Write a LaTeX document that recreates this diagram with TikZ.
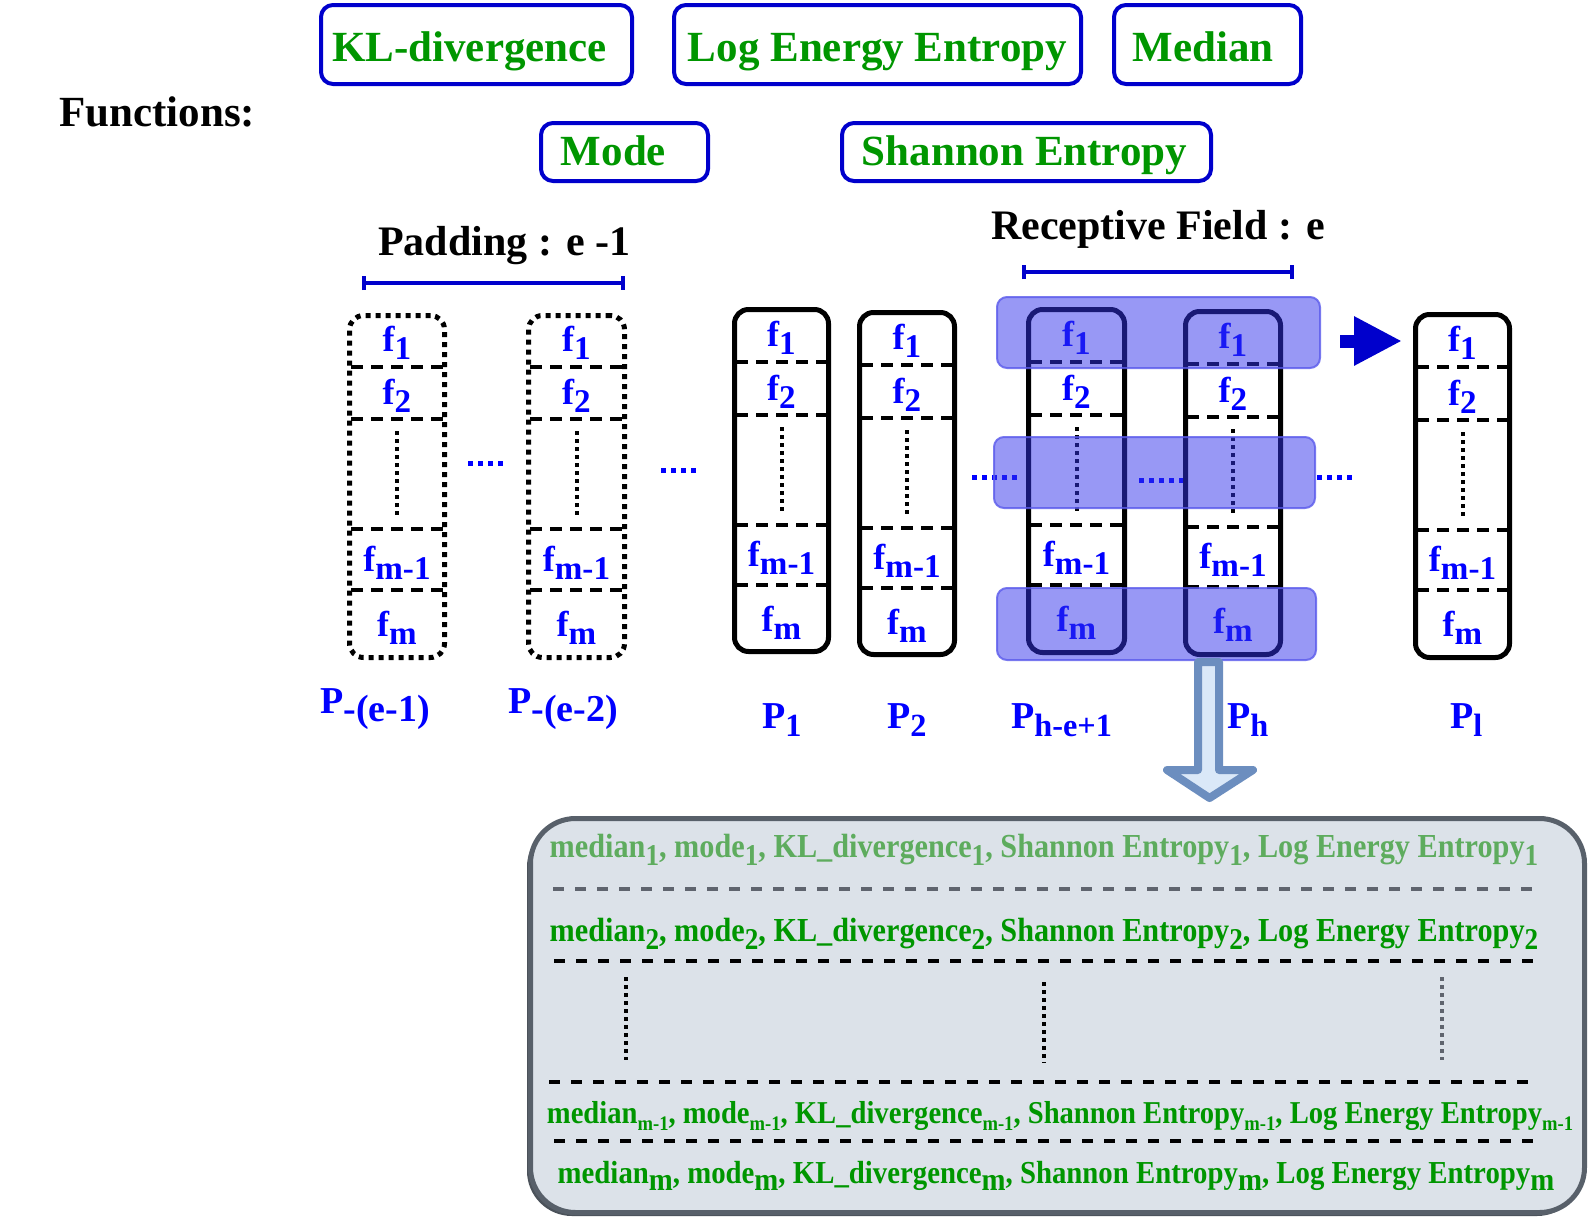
\documentclass[tikz,border=0pt]{standalone}
\usepackage{fontspec}
\setmainfont{Liberation Serif}
\newfontfamily\condfont[FakeStretch=0.9]{Liberation Serif}
\usetikzlibrary{fit,arrows.meta,calc}

\definecolor{boxblue}{RGB}{0,0,204}
\definecolor{fgreen}{RGB}{0,150,0}
\definecolor{lgreen}{RGB}{94,172,94}
\definecolor{lblue}{RGB}{0,0,255}
\definecolor{bandfill}{RGB}{50,50,235}
\definecolor{bandline}{RGB}{90,90,235}
\definecolor{resfill}{RGB}{220,226,233}
\definecolor{resline}{RGB}{88,96,106}
\definecolor{arrline}{RGB}{108,142,191}
\definecolor{arrfill}{RGB}{218,232,248}
\definecolor{gline}{RGB}{95,100,110}

\newcommand{\lo}[2][0.85]{\raisebox{-0.22em}{\scalebox{#1}{#2}}}
\newcommand{\fsz}[1]{\fontsize{#1}{#1}\selectfont}
\newcommand{\padr}[1]{\rule{#1}{0pt}}

\tikzset{
  funcbox/.style={draw=boxblue, line width=4pt, rounded corners=12pt, text=fgreen, font=\fsz{43}\bfseries, inner sep=0pt, text depth=9pt},
  titletext/.style={font=\fsz{42}\bfseries, text=black, anchor=base west, inner sep=0pt},
  colbox/.style={draw=black, line width=5pt, rounded corners=14pt, inner sep=0pt},
  padbox/.style={draw=black, line width=5pt, rounded corners=14pt, dash pattern=on 5pt off 5pt, inner sep=0pt},
  sepline/.style={draw=black, line width=4pt, dash pattern=on 12pt off 8pt},
  vdotline/.style={draw=black, line width=4pt, dash pattern=on 4pt off 4pt},
  hdotline/.style={draw=lblue, line width=5pt, dash pattern=on 5pt off 5pt},
  flabel/.style={text=lblue, font=\fsz{36}\bfseries, inner sep=0pt},
  plabel/.style={text=lblue, font=\fsz{38}\bfseries, inner sep=0pt, anchor=base west},
  band/.style={fill=bandfill, fill opacity=0.5, draw=bandline, draw opacity=0.8, line width=2pt, rounded corners=10pt, inner sep=0pt},
  spanline/.style={draw=boxblue, line width=4pt, {Bar[width=14pt]}-{Bar[width=14pt]}},
  resbox/.style={fill=resfill, draw=resline, line width=5pt, rounded corners=45pt, inner sep=0pt},
  rowtext/.style={font=\condfont\fsz{33.6}\bfseries, text=fgreen, inner sep=0pt},
  rsep/.style={draw=black, line width=4pt, dash pattern=on 11pt off 11pt},
  bigarrow/.style={draw=boxblue, line width=13pt, -{Triangle[length=48pt,width=46pt]}},
  hollowarrow/.style={draw=arrline, fill=arrfill, line width=8pt, line join=round},
}

\begin{document}
\begin{tikzpicture}[x=1pt,y=-1pt]
\useasboundingbox (0,0) rectangle (1590,1218);

% Functions
\node[titletext, font=\fsz{43}\bfseries] (fn) at (59,126) {Functions:};
\node[funcbox, minimum width=311pt, minimum height=79pt, text height=43pt] (kl) at (476.5,44.5) {KL-divergence\padr{14pt}};
\node[funcbox, minimum width=407pt, minimum height=79pt, text height=43pt] (le) at (877.5,44.5) {Log Energy Entropy};
\node[funcbox, minimum width=187pt, minimum height=79pt, text height=43pt] (md) at (1207.5,44.5) {Median\padr{9pt}};
\node[funcbox, minimum width=167pt, minimum height=58pt, text height=35pt] (mo) at (624.5,152) {Mode\padr{22pt}};
\node[funcbox, minimum width=369pt, minimum height=58pt, text height=35pt] (se) at (1026.5,152) {Shannon Entropy\padr{4pt}};

% titles and spans
\node[titletext] (pad) at (378,255) {Padding : e -1};
\coordinate (padL) at (362,283);
\coordinate (padR) at (625,283);
\draw[spanline] (padL) -- (padR);
\node[titletext] (rf) at (991,239) {Receptive Field : e};
\coordinate (rfL) at (1022,272);
\coordinate (rfR) at (1294,272);
\draw[spanline] (rfL) -- (rfR);

% padding columns
\foreach \n/\xl/\xr/\yt/\ya/\yb/\yc/\yd/\ybot in {pa/347/447/313/367/419/529/590/660, pb/526/627/313/367/419/529/590/660}{
  \coordinate (\n-tl) at (\xl+2.5,\yt+2.5);
  \coordinate (\n-br) at (\xr-2.5,\ybot-2.5);
  \node[padbox, fit=(\n-tl)(\n-br)] (\n) {};
  \foreach \yy in {\ya,\yb,\yc,\yd} \draw[sepline] (\xl+4,\yy) -- (\xr-4,\yy);
  \draw[vdotline] ({(\xl+\xr)/2},\yb+12) -- ({(\xl+\xr)/2},\yc-14);
  \node[flabel] (\n-f1) at ({(\xl+\xr)/2},{(\yt+\ya)/2+3}) {f\lo[0.92]{1}};
  \node[flabel] (\n-f2) at ({(\xl+\xr)/2},{(\ya+\yb)/2+3}) {f\lo[0.92]{2}};
  \node[flabel] (\n-f3) at ({(\xl+\xr)/2},{(\yc+\yd)/2+3}) {f\lo[0.92]{m-1}};
  \node[flabel] (\n-f4) at ({(\xl+\xr)/2},{(\yd+\ybot)/2+3}) {f\lo[0.92]{m}};
}

% solid columns
\foreach \n/\xl/\xr/\yt/\ya/\yb/\yc/\yd/\ybot in {pc/732/831/307/362/415/525/585/654, pd/857/957/310/365/418/528/588/657, pe/1026/1127/307/362/415/525/585/655, pf/1183/1283/309/364/417/527/587/657, pg/1413/1512/312/367/420/530/590/660}{
  \coordinate (\n-tl) at (\xl+2.5,\yt+2.5);
  \coordinate (\n-br) at (\xr-2.5,\ybot-2.5);
  \node[colbox, fit=(\n-tl)(\n-br)] (\n) {};
  \foreach \yy in {\ya,\yb,\yc,\yd} \draw[sepline] (\xl+4,\yy) -- (\xr-4,\yy);
  \draw[vdotline] ({(\xl+\xr)/2},\yb+12) -- ({(\xl+\xr)/2},\yc-14);
  \node[flabel] (\n-f1) at ({(\xl+\xr)/2},{(\yt+\ya)/2+3}) {f\lo[0.92]{1}};
  \node[flabel] (\n-f2) at ({(\xl+\xr)/2},{(\ya+\yb)/2+3}) {f\lo[0.92]{2}};
  \node[flabel] (\n-f3) at ({(\xl+\xr)/2},{(\yc+\yd)/2+3}) {f\lo[0.92]{m-1}};
  \node[flabel] (\n-f4) at ({(\xl+\xr)/2},{(\yd+\ybot)/2+3}) {f\lo[0.92]{m}};
}

% column labels
\node[plabel] (lpa) at (320,713) {P\lo[1]{-(e-1)}};
\node[plabel] (lpb) at (508,713) {P\lo[1]{-(e-2)}};
\node[plabel] (lpc) at (762,728) {P\lo{1}};
\node[plabel] (lpd) at (887,728) {P\lo{2}};
\node[plabel] (lpe) at (1011,728) {P\lo{h-e+1}};
\node[plabel] (lpf) at (1227,728) {P\lo{h}};
\node[plabel] (lpg) at (1450,728) {P\lo{l}};

% dots between columns
\draw[hdotline] (468,463) -- (505,463);
\draw[hdotline] (661,470) -- (698,470);
\draw[hdotline] (972,477) -- (1021,477);
\draw[hdotline] (1139,480) -- (1183,480);
\draw[hdotline] (1317,477) -- (1353,477);

% receptive field bands
\coordinate (b1a) at (997,297); \coordinate (b1b) at (1320,368);
\coordinate (b2a) at (994,437); \coordinate (b2b) at (1315,508);
\coordinate (b3a) at (997,588); \coordinate (b3b) at (1316,660);
\node[band, fit=(b1a)(b1b)] (bandtop) {};
\node[band, fit=(b2a)(b2b)] (bandmid) {};
\node[band, fit=(b3a)(b3b)] (bandbot) {};

% arrow to output column
\coordinate (arS) at (1340,341);
\coordinate (arE) at (1402,341);
\draw[bigarrow] (arS) -- (arE);

% hollow down arrow
\draw[hollowarrow] (1198,662) -- (1198,770) -- (1167,770) -- (1209.5,798) -- (1253,770) -- (1219,770) -- (1219,662) -- cycle;

% result box
\fill[resline!85!black, rounded corners=45pt] (527,822) rectangle (1582,1216);
\coordinate (r-tl) at (530.5,818.5);
\coordinate (r-br) at (1584.5,1212.5);
\node[resbox, fit=(r-tl)(r-br)] (res) {};

\node[rowtext, text=lgreen] (row1) at (1044,850) {median\lo[0.9]{1}, mode\lo[0.9]{1}, KL\_divergence\lo[0.9]{1}, Shannon Entropy\lo[0.9]{1}, Log Energy Entropy\lo[0.9]{1}};
\node[rowtext] (row2) at (1044,934) {median\lo[0.9]{2}, mode\lo[0.9]{2}, KL\_divergence\lo[0.9]{2}, Shannon Entropy\lo[0.9]{2}, Log Energy Entropy\lo[0.9]{2}};
\node[rowtext, font=\condfont\fsz{31.8}\bfseries] (row3) at (1060,1116) {median\lo[0.65]{m-1}, mode\lo[0.65]{m-1}, KL\_divergence\lo[0.65]{m-1}, Shannon Entropy\lo[0.65]{m-1}, Log Energy Entropy\lo[0.65]{m-1}};
\node[rowtext, font=\condfont\fsz{32}\bfseries] (row4) at (1056,1176) {median\lo[1]{m}, mode\lo[1]{m}, KL\_divergence\lo[1]{m}, Shannon Entropy\lo[1]{m}, Log Energy Entropy\lo[1]{m}};

\draw[rsep, draw=gline] (553,889) -- (1536,889);
\draw[rsep] (554,961) -- (1537,961);
\draw[rsep] (549,1082) -- (1532,1082);
\draw[rsep] (554,1141) -- (1537,1141);

\draw[vdotline] (626,977) -- (626,1060);
\draw[vdotline] (1044,982) -- (1044,1063);
\draw[vdotline, draw=gline] (1442,977) -- (1442,1060);
\end{tikzpicture}
\end{document}
